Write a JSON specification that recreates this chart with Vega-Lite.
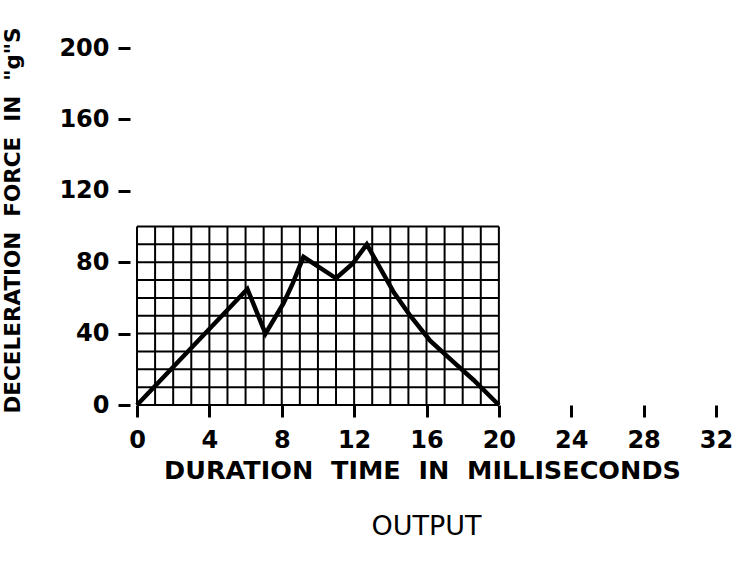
{
  "$schema": "https://vega.github.io/schema/vega-lite/v6.json",
  "width": 579,
  "height": 357,
  "autosize": "none",
  "padding": {"left": 137, "top": 48, "right": 23, "bottom": 158},
  "background": "white",
  "config": {"view": {"stroke": null}, "font": "DejaVu Sans"},
  "title": {"text": "OUTPUT", "orient": "bottom", "anchor": "middle", "frame": "group", "font": "DejaVu Sans", "fontSize": 27, "fontWeight": "normal", "color": "black", "offset": 30},
  "datasets": {
    "curve": [
      {"t": 0, "g": 0},
      {"t": 6.1, "g": 65},
      {"t": 7.1, "g": 40},
      {"t": 8.1, "g": 57},
      {"t": 8.6, "g": 68},
      {"t": 9.2, "g": 83},
      {"t": 11.0, "g": 71},
      {"t": 11.9, "g": 79},
      {"t": 12.7, "g": 90},
      {"t": 14.2, "g": 63},
      {"t": 15.1, "g": 50},
      {"t": 16.2, "g": 36},
      {"t": 17.5, "g": 24},
      {"t": 18.6, "g": 14},
      {"t": 20, "g": 0}
    ],
    "vgrid": [
      {"x": 0, "ya": 0, "yb": 100}, {"x": 1, "ya": 0, "yb": 100}, {"x": 2, "ya": 0, "yb": 100},
      {"x": 3, "ya": 0, "yb": 100}, {"x": 4, "ya": 0, "yb": 100}, {"x": 5, "ya": 0, "yb": 100},
      {"x": 6, "ya": 0, "yb": 100}, {"x": 7, "ya": 0, "yb": 100}, {"x": 8, "ya": 0, "yb": 100},
      {"x": 9, "ya": 0, "yb": 100}, {"x": 10, "ya": 0, "yb": 100}, {"x": 11, "ya": 0, "yb": 100},
      {"x": 12, "ya": 0, "yb": 100}, {"x": 13, "ya": 0, "yb": 100}, {"x": 14, "ya": 0, "yb": 100},
      {"x": 15, "ya": 0, "yb": 100}, {"x": 16, "ya": 0, "yb": 100}, {"x": 17, "ya": 0, "yb": 100},
      {"x": 18, "ya": 0, "yb": 100}, {"x": 19, "ya": 0, "yb": 100}, {"x": 20, "ya": 0, "yb": 100}
    ],
    "hgrid": [
      {"y": 0, "xa": 0, "xb": 20}, {"y": 10, "xa": 0, "xb": 20}, {"y": 20, "xa": 0, "xb": 20},
      {"y": 30, "xa": 0, "xb": 20}, {"y": 40, "xa": 0, "xb": 20}, {"y": 50, "xa": 0, "xb": 20},
      {"y": 60, "xa": 0, "xb": 20}, {"y": 70, "xa": 0, "xb": 20}, {"y": 80, "xa": 0, "xb": 20},
      {"y": 90, "xa": 0, "xb": 20}, {"y": 100, "xa": 0, "xb": 20}
    ]
  },
  "layer": [
    {
      "data": {"name": "vgrid"},
      "mark": {"type": "rule", "color": "black", "strokeWidth": 2},
      "encoding": {
        "x": {"field": "x", "type": "quantitative",
          "scale": {"domain": [0, 32], "nice": false, "zero": false},
          "axis": {
            "values": [0, 4, 8, 12, 16, 20, 24, 28, 32],
            "domain": false, "grid": false,
            "tickSize": 12, "tickWidth": 3, "tickColor": "black",
            "labelFont": "DejaVu Sans", "labelFontSize": 24, "labelFontWeight": "bold", "labelColor": "black",
            "labelPadding": 11, "labelFlush": false, "labelOverlap": false,
            "title": "DURATION\u00a0\u00a0TIME\u00a0\u00a0IN\u00a0\u00a0MILLISECONDS",
            "titleFont": "DejaVu Sans", "titleFontSize": 25.5, "titleFontWeight": "bold", "titleColor": "black",
            "titleX": 285, "titleY": 65, "titleAlign": "center", "titleBaseline": "middle"
          }
        },
        "y": {"field": "ya", "type": "quantitative",
          "scale": {"domain": [0, 200], "nice": false, "zero": false},
          "axis": {
            "values": [0, 40, 80, 120, 160, 200],
            "domain": false, "grid": false, "offset": 7,
            "tickSize": 12, "tickWidth": 3, "tickColor": "black",
            "labelFont": "DejaVu Sans", "labelFontSize": 24, "labelFontWeight": "bold", "labelColor": "black",
            "labelPadding": 9, "labelFlush": false, "labelOverlap": false,
            "title": "DECELERATION\u00a0\u00a0FORCE\u00a0\u00a0IN\u00a0\u00a0\"g\"S",
            "titleFont": "DejaVu Sans", "titleFontSize": 21.5, "titleFontWeight": "bold", "titleColor": "black",
            "titleAngle": -90, "titleX": -117, "titleY": 172, "titleAlign": "center", "titleBaseline": "middle"
          }
        },
        "y2": {"field": "yb"}
      }
    },
    {
      "data": {"name": "hgrid"},
      "mark": {"type": "rule", "color": "black", "strokeWidth": 2},
      "encoding": {
        "x": {"field": "xa", "type": "quantitative"},
        "x2": {"field": "xb"},
        "y": {"field": "y", "type": "quantitative"}
      }
    },
    {
      "data": {"name": "curve"},
      "mark": {"type": "line", "color": "black", "strokeWidth": 4.5, "strokeJoin": "miter"},
      "encoding": {
        "x": {"field": "t", "type": "quantitative"},
        "y": {"field": "g", "type": "quantitative"}
      }
    }
  ]
}
